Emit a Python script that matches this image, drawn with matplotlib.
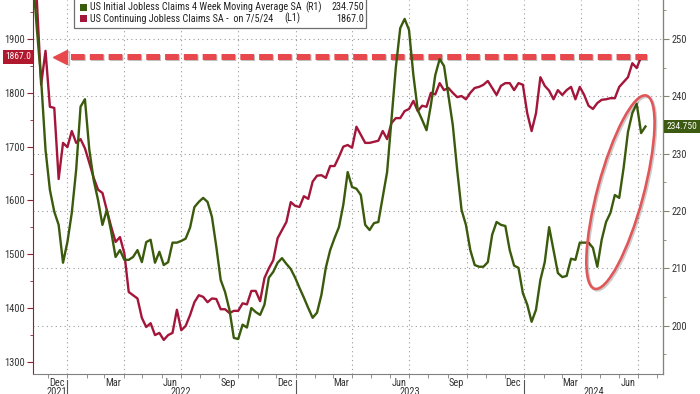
import pandas as pd
import matplotlib
matplotlib.use("Agg")
import matplotlib.pyplot as plt
import matplotlib.dates as mdates
import matplotlib.patheffects as pe
from matplotlib.patches import Ellipse, Rectangle
from matplotlib.ticker import MultipleLocator
from matplotlib.transforms import IdentityTransform, blended_transform_factory
from matplotlib import font_manager

# pick a narrow face if one is installed
fonts = font_manager.fontManager.ttflist
names = {f.name for f in fonts}
if "Liberation Sans Narrow" in names:
    plt.rcParams["font.family"] = ["Liberation Sans Narrow", "DejaVu Sans"]
elif "Roboto Condensed" in names:
    plt.rcParams["font.family"] = ["Roboto Condensed", "DejaVu Sans"]
else:
    plt.rcParams["font.family"] = ["DejaVu Sans"]
    if any(f.name == "DejaVu Sans" and f.stretch == "condensed" for f in fonts):
        plt.rcParams["font.stretch"] = "condensed"

# weekly data
cont_start = "2021-11-06"
continuing = [2020, 1975, 1815, 1878, 1774, 1772, 1640, 1707, 1699, 1729,
              1707, 1714, 1697, 1670, 1642, 1620, 1614, 1582, 1551, 1523,
              1532, 1502, 1430, 1424, 1418, 1382, 1365, 1372, 1350, 1354,
              1341, 1350, 1354, 1397, 1359, 1367, 1387, 1411, 1424, 1421,
              1411, 1418, 1417, 1398, 1398, 1391, 1395, 1395, 1409, 1407,
              1432, 1432, 1413, 1456, 1474, 1489, 1530, 1545, 1560, 1597,
              1590, 1588, 1608, 1603, 1635, 1646, 1647, 1642, 1664, 1664,
              1681, 1700, 1703, 1698, 1737, 1722, 1707, 1707, 1709, 1711,
              1729, 1714, 1744, 1753, 1753, 1766, 1770, 1785, 1766, 1776,
              1774, 1800, 1797, 1818, 1805, 1809, 1800, 1792, 1794, 1788,
              1800, 1809, 1811, 1815, 1822, 1809, 1796, 1813, 1818, 1818,
              1805, 1818, 1815, 1762, 1729, 1762, 1829, 1813, 1804, 1788,
              1805, 1796, 1805, 1811, 1788, 1811, 1796, 1776, 1770, 1781,
              1787, 1788, 1790, 1790, 1811, 1820, 1829, 1855, 1846, 1867]

init_start = "2021-11-06"
initial_4wk = [262, 252, 242.9, 230.7, 223.7, 219.9, 217.6, 211.0, 214.6, 219.7,
               227.2, 238.2, 239.5, 230.7, 225.4, 221.9, 217.6, 220.2, 216.4, 212.0,
               213.2, 211.5, 211.5, 212.0, 213.2, 211.1, 214.6, 215.0, 211.0, 212.9,
               210.6, 211.1, 214.5, 214.5, 214.8, 215.2, 217.1, 220.7, 221.6, 222.3,
               221.6, 219.0, 213.8, 208.0, 205.9, 202.8, 197.9, 197.7, 200.2, 199.7,
               203.1, 202.4, 201.9, 203.7, 208.4, 209.4, 211.0, 211.8, 210.8, 209.9,
               208.4, 206.6, 204.9, 203.1, 201.4, 202.3, 205.4, 210.1, 213.2, 215.3,
               217.2, 221.1, 226.8, 224.2, 223.9, 222.8, 217.6, 216.7, 217.9, 218.1,
               222.5, 226.8, 235.9, 245.1, 251.9, 253.5, 251.6, 243.7, 237.6, 235.9,
               234.1, 238.5, 243.7, 246.5, 245.3, 240.2, 235.0, 227.2, 220.2, 217.6,
               213.2, 210.6, 210.3, 210.3, 211.1, 215.9, 218.1, 217.6, 217.4, 213.2,
               210.5, 210.1, 205.7, 203.7, 200.7, 202.8, 208.0, 211.1, 217.2, 213.2,
               209.2, 208.5, 208.7, 211.7, 211.5, 214.5, 214.5, 214.5, 213.6, 210.3,
               215.0, 218.1, 219.7, 222.8, 222.3, 227.5, 233.8, 237.1, 238.7, 233.6,
               234.75]

last_cont = 1867.0
last_init = 234.750
label_init = "US Initial Jobless Claims 4 Week Moving Average SA"
label_cont = "US Continuing Jobless Claims SA -  on 7/5/24"

left_ticks = [1300, 1400, 1500, 1600, 1700, 1800, 1900]
right_ticks = [200, 210, 220, 230, 240, 250]
years = ["2021", "2022", "2023", "2024"]

GREEN = "#3a5a0c"
RED = "#a3163a"
ARROW = "#e8474c"
FS = 7.5
LEG_FS = 7.3

cont_dates = pd.date_range(cont_start, periods=len(continuing), freq="7D")
init_dates = pd.date_range(init_start, periods=len(initial_4wk), freq="7D")

x0, x1 = pd.Timestamp("2021-11-07"), pd.Timestamp("2024-08-10")
ylo_l, yhi_l = 1277.7, 1972.4
ylo_r, yhi_r = 191.6, 256.8

fig = plt.figure(figsize=(7, 3.94), dpi=100)
ax = fig.add_axes([33 / 700, 20 / 394, 630 / 700, 374 / 394])
ax2 = ax.twinx()

ax.set_xlim(x0, x1)
ax.set_ylim(ylo_l, yhi_l)
ax2.set_ylim(ylo_r, yhi_r)

# grid: horizontal lines follow the right scale
for v in right_ticks:
    yl = ylo_l + (v - ylo_r) * (yhi_l - ylo_l) / (yhi_r - ylo_r)
    ax.axhline(yl, color="#9a9a9a", lw=0.8, ls=(0, (1, 3)), zorder=0)
for d in pd.date_range("2022-01-01", "2024-07-01", freq="QS"):
    ax.axvline(d, color="#9a9a9a", lw=0.8, ls=(0, (1, 3)), zorder=0)

ax.plot(cont_dates, continuing, color=RED, lw=1.7, zorder=3)
ax2.plot(init_dates, initial_4wk, color=GREEN, lw=1.7, zorder=3)

# dashed arrow at the latest continuing claims level
shadow = [pe.SimpleLineShadow(offset=(1.2, -1.2), alpha=0.25), pe.Normal()]
ax.plot([pd.Timestamp("2022-01-06"), pd.Timestamp("2024-07-15")], [last_cont, last_cont],
        color=ARROW, lw=4.3, dashes=(2.3, 0.85), zorder=4, path_effects=shadow)
ax.plot([pd.Timestamp("2021-12-20")], [last_cont], marker="<", ms=10, color=ARROW,
        mec=ARROW, zorder=4, path_effects=shadow)

# ellipse round the recent rise
fig.canvas.draw()
cx, cy = ax2.transData.transform((mdates.date2num(pd.Timestamp("2024-06-03")), 223.3))
ell = Ellipse((cx, cy), width=200, height=46, angle=75, transform=IdentityTransform(),
              fill=False, ec="#e0575a", lw=1.9, zorder=5,
              path_effects=[pe.SimpleLineShadow(offset=(1, -1), alpha=0.2), pe.Normal()])
fig.add_artist(ell)

# spines and ticks
ax.spines["top"].set_visible(False)
ax2.spines["top"].set_visible(False)
ax.spines["left"].set_color("#8c2232")
ax.spines["bottom"].set_color("#808080")
ax2.spines["right"].set_color("#85856e")
ax2.spines["left"].set_visible(False)
ax2.spines["bottom"].set_visible(False)

ax.set_yticks(left_ticks)
ax.yaxis.set_minor_locator(MultipleLocator(50))
ax.tick_params(axis="y", which="major", length=4, color="#8c2232", labelsize=FS,
               labelcolor="#333333", pad=2)
ax.tick_params(axis="y", which="minor", length=2.5, color="#8c2232")
ax2.set_yticks(right_ticks)
ax2.yaxis.set_minor_locator(MultipleLocator(5))
ax2.tick_params(axis="y", which="major", length=4, color="#85856e", labelsize=FS,
                labelcolor="#333333", pad=2)
ax2.tick_params(axis="y", which="minor", length=2.5, color="#85856e")

ax.xaxis.set_major_locator(mdates.MonthLocator(bymonth=[3, 6, 9, 12], bymonthday=15))
ax.xaxis.set_major_formatter(mdates.DateFormatter("%b"))
ax.xaxis.set_minor_locator(mdates.MonthLocator())
ax.tick_params(axis="x", which="major", length=0, labelsize=FS, labelcolor="#333333", pad=3)
ax.tick_params(axis="x", which="minor", length=3, color="#808080")

# year labels and separators
xy_tr = blended_transform_factory(ax.transData, ax.transAxes)
year_pos = [pd.Timestamp("2021-12-15"), pd.Timestamp("2022-07-02"),
            pd.Timestamp("2023-07-02"), pd.Timestamp("2024-04-21")]
for yr, d in zip(years, year_pos):
    ax.text(d, -0.034, yr, transform=xy_tr, ha="center", va="top", fontsize=FS,
            color="#333333", clip_on=False)
for d in pd.date_range("2022-01-01", "2024-01-01", freq="YS"):
    ax.plot([d, d], [-0.015, -0.08], transform=xy_tr, color="#555555", lw=0.8,
            clip_on=False)

# value tags on the axes
ax.text(-0.003, last_cont, f"{last_cont:.1f}",
        transform=blended_transform_factory(ax.transAxes, ax.transData),
        ha="right", va="center", fontsize=6.8, color="white", zorder=6, clip_on=False,
        bbox=dict(boxstyle="square,pad=0.25", fc="#b0182e", ec="none"))
ax2.text(1.006, last_init, f"{last_init:.3f}",
         transform=blended_transform_factory(ax2.transAxes, ax2.transData),
         ha="left", va="center", fontsize=6.8, color="white", zorder=6, clip_on=False,
         bbox=dict(boxstyle="square,pad=0.25", fc="#3d5a12", ec="none"))

# legend box, cut off at the top like the original
fig.add_artist(Rectangle((74 / 700, 1 - 28 / 394), 292 / 700, 40 / 394, transform=fig.transFigure,
                         fc="white", ec="#6f6f6f", lw=0.9, zorder=7))
rows = [(7.5, GREEN, label_init, "(R1)", f"{last_init:.3f}", 305),
        (18.5, RED, label_cont, "(L1)", f"{last_cont:.1f}", 284)]
for y, c, lab, tag, val, tag_x in rows:
    fig.add_artist(Rectangle((80 / 700, 1 - (y + 3.5) / 394), 7 / 700, 7 / 394,
                             transform=fig.transFigure, fc=c, ec="none", zorder=8))
    fig.text(90 / 700, 1 - y / 394, lab, fontsize=LEG_FS, va="center", color="#222222", zorder=8)
    fig.text(tag_x / 700, 1 - y / 394, tag, fontsize=LEG_FS, va="center", color="#222222", zorder=8)
    fig.text(364 / 700, 1 - y / 394, val, fontsize=LEG_FS, va="center", ha="right",
             color="#222222", zorder=8)

fig.savefig("out.png", dpi=100)
